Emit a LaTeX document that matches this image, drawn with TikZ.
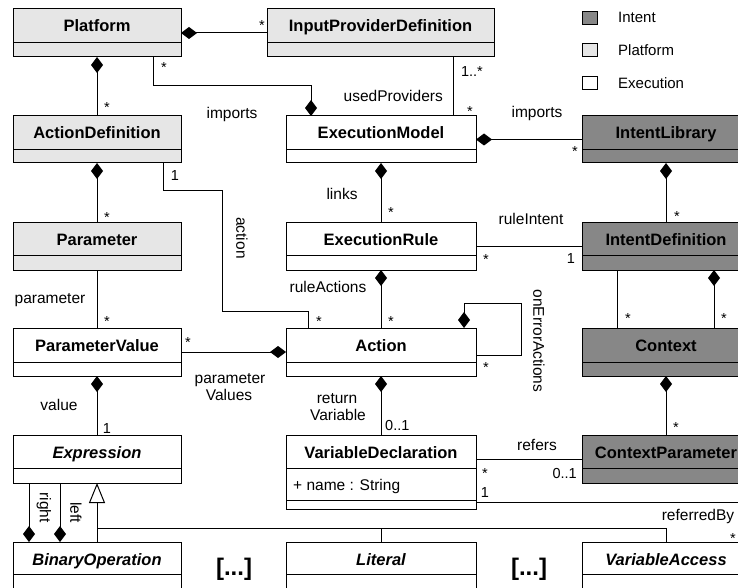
\documentclass[tikz,border=0pt]{standalone}
\usepackage{fontspec}
\setmainfont{Liberation Sans}
\usetikzlibrary{arrows.meta}
\definecolor{intentc}{HTML}{878787}
\definecolor{platc}{HTML}{E6E6E6}
\tikzset{
  cls/.style={draw=black, line width=1pt, inner sep=0pt, outer sep=0pt, anchor=north west},
  platbox/.style={fill=platc},
  intbox/.style={fill=intentc},
  execbox/.style={fill=white},
  ttl/.style={font=\fontsize{16.5}{19}\selectfont\bfseries, anchor=base, inner sep=0pt},
  lbl/.style={font=\fontsize{15.5}{18}\selectfont, inner sep=0pt, anchor=base},
  mult/.style={font=\fontsize{14.5}{17}\selectfont, inner sep=0pt, anchor=base},
  rlbl/.style={font=\fontsize{15.5}{18}\selectfont, inner sep=0pt, rotate=-90},
  conn/.style={line width=1pt},
  comp/.style={conn, {Diamond[length=16pt,width=12pt]}-},
  compend/.style={conn, -{Diamond[length=16pt,width=12pt]}},
  gen/.style={conn, -{Triangle[open,fill=white,length=20pt,width=16pt]}},
  legbox/.style={draw=black, line width=1pt, minimum width=15pt, minimum height=13pt, inner sep=0pt},
  legtxt/.style={font=\fontsize{15}{18}\selectfont, inner sep=0pt, anchor=base west},
  dots/.style={font=\fontsize{24}{27}\selectfont\bfseries, inner sep=0pt},
}
\newcommand\umlclass[8]{%
  \node[cls,#7,minimum width={(#4)-(#2)}, minimum height={(#5)-(#3)}] (#1) at (#2,#3) {};
  \draw[conn] (#2,#6) -- (#4,#6);
  \node[ttl] (#1-t) at ({((#2)+(#4))/2},{(#3)+23}) {#8};
}
\begin{document}
\begin{tikzpicture}[x=1pt,y=-1pt]
\useasboundingbox (0,0) rectangle (738,588);
\clip (0,0) rectangle (738,588);
\fill[white] (0,0) rectangle (738,588);

% classes
\umlclass{plat}{13}{9}{181}{57}{43}{platbox}{Platform}
\umlclass{ipd}{267}{9}{494}{57}{43}{platbox}{InputProviderDefinition}
\umlclass{actdef}{13}{116}{181}{163}{150}{platbox}{ActionDefinition}
\umlclass{exmodel}{286}{116}{476}{163}{150}{execbox}{ExecutionModel}
\umlclass{intlib}{582}{116}{750}{163}{150}{intbox}{IntentLibrary}
\umlclass{param}{13}{222}{181}{270}{255}{platbox}{Parameter}
\umlclass{exrule}{286}{222}{476}{270}{255}{execbox}{ExecutionRule}
\umlclass{intdef}{582}{222}{750}{270}{255}{intbox}{IntentDefinition}
\umlclass{pval}{13}{328}{181}{376}{362}{execbox}{ParameterValue}
\umlclass{action}{286}{328}{476}{376}{362}{execbox}{Action}
\umlclass{context}{582}{328}{750}{376}{362}{intbox}{Context}
\umlclass{expr}{13}{435}{181}{483}{468}{execbox}{\itshape Expression}
\umlclass{vardecl}{286}{435}{476}{509}{468}{execbox}{VariableDeclaration}
\draw[conn] (286,500) -- (476,500);
\node[lbl, anchor=base west] (vdattr) at (293,490) {+ name : String};
\umlclass{ctxparam}{582}{435}{750}{483}{468}{intbox}{ContextParameter}
\umlclass{binop}{13}{542}{181}{600}{574}{execbox}{\itshape BinaryOperation}
\umlclass{literal}{286}{542}{476}{600}{574}{execbox}{\itshape Literal}
\umlclass{varacc}{582}{542}{750}{600}{574}{execbox}{\itshape VariableAccess}

% legend
\node[legbox, fill=intentc] (legI) at (589.5,18) {};
\node[legtxt] (legIt) at (618,23) {Intent};
\node[legbox, fill=platc] (legP) at (589.5,50.5) {};
\node[legtxt] (legPt) at (618,56) {Platform};
\node[legbox, fill=white] (legE) at (589.5,83.5) {};
\node[legtxt] (legEt) at (618,89) {Execution};

% helper coordinates
\coordinate (imp1) at (153,86);
\coordinate (imp2) at (311,86);
\coordinate (upx) at (453,0);
\coordinate (a1) at (163,190);
\coordinate (a2) at (222,190);
\coordinate (a3) at (222,311);
\coordinate (a4) at (308,311);
\coordinate (l1) at (521,355);
\coordinate (l2) at (521,303);
\coordinate (l3) at (464,303);
\coordinate (c1) at (617,0);
\coordinate (c2) at (714,0);
\coordinate (rf) at (0,459);
\coordinate (rb1) at (745,502);
\coordinate (g1) at (97,528);
\coordinate (rl) at (29,0);
\coordinate (ll) at (60,0);

% connectors
\draw[comp] (plat.east) -- (ipd.west);
\draw[comp] (plat.south) -- (plat.south |- actdef.north);
\draw[compend] (plat.south -| imp1) -- (imp1) -- (imp2) -- (exmodel.north -| imp2);
\draw[conn] (ipd.south -| upx) -- (exmodel.north -| upx);
\draw[comp] (exmodel.east) -- (intlib.west);
\draw[comp] (exmodel.south) -- (exrule.north);
\draw[comp] (intlib.south) -- (intdef.north);
\draw[conn] (exrule.east) -- (intdef.west);
\draw[conn] (actdef.south -| a1) -- (a1) -- (a2) -- (a3) -- (a4) -- (action.north -| a4);
\draw[comp] (actdef.south) -- (param.north);
\draw[conn] (param.south) -- (pval.north);
\draw[comp] (exrule.south) -- (action.north);
\draw[compend] (action.east |- l1) -- (l1) -- (l2) -- (l3) -- (action.north -| l3);
\draw[compend] (pval.east) -- (action.west);
\draw[conn] (intdef.south -| c1) -- (context.north -| c1);
\draw[comp] (intdef.south -| c2) -- (context.north -| c2);
\draw[comp] (context.south) -- (ctxparam.north);
\draw[comp] (pval.south) -- (expr.north);
\draw[comp] (action.south) -- (vardecl.north);
\draw[conn] (vardecl.east |- rf) -- (ctxparam.west |- rf);
\draw[conn] (vardecl.east |- rb1) -- (rb1) -- (varacc.north -| rb1);
\draw[gen] (binop.north) -- (expr.south);
\draw[conn] (binop.north |- g1) -- (g1 -| varacc.north) -- (varacc.north);
\draw[conn] (g1 -| literal.north) -- (literal.north);
\draw[compend] (expr.south -| rl) -- (binop.north -| rl);
\draw[compend] (expr.south -| ll) -- (binop.north -| ll);

% role labels
\node[lbl] (limp1) at (232,119) {imports};
\node[lbl, anchor=base east] (lused) at (443,102) {usedProviders};
\node[lbl] (limp2) at (537,118) {imports};
\node[lbl] (llinks) at (342,200) {links};
\node[lbl] (lrint) at (531,224) {ruleIntent};
\node[rlbl] (lact) at (242,238) {action};
\node[lbl] (lract) at (328,292) {ruleActions};
\node[lbl] (lparam) at (50,303) {parameter};
\node[rlbl] (lerr) at (539,341) {onErrorActions};
\node[lbl] (lpv1) at (230,383) {parameter};
\node[lbl] (lpv2) at (229,400) {Values};
\node[lbl] (lval) at (59,410) {value};
\node[lbl] (lret1) at (337,403) {return};
\node[lbl] (lret2) at (338,420) {Variable};
\node[lbl] (lref) at (537,450) {refers};
\node[lbl] (lrefby) at (698,520) {referredBy};
\node[rlbl, anchor=east] (lright) at (44,523) {right};
\node[rlbl, anchor=east] (lleft) at (76,523) {left};
\node[dots] (dots1) at (234,569) {[...]};
\node[dots] (dots2) at (529,569) {[...]};

% multiplicities
\node[mult] (m1) at (262,31) {*};
\node[mult] (m2) at (164,73) {*};
\node[mult] (m3) at (107,113) {*};
\node[mult] (m4) at (472,77) {1..*};
\node[mult] (m5) at (470,117) {*};
\node[mult] (m6) at (575,157) {*};
\node[mult] (m7) at (175,180) {1};
\node[mult] (m8) at (391,217) {*};
\node[mult] (m9) at (677,221) {*};
\node[mult] (m10) at (107,222) {*};
\node[mult] (m11) at (486,264) {*};
\node[mult] (m12) at (571,263) {1};
\node[mult] (m13) at (107,326) {*};
\node[mult] (m14) at (319,326) {*};
\node[mult] (m15) at (391,326) {*};
\node[mult] (m16) at (628,323) {*};
\node[mult] (m17) at (724,323) {*};
\node[mult] (m18) at (188,347) {*};
\node[mult] (m19) at (486,372) {*};
\node[mult] (m20) at (107,433) {1};
\node[mult, anchor=base west] (m21) at (385,430) {0..1};
\node[mult] (m22) at (676,432) {*};
\node[mult] (m23) at (485,478) {*};
\node[mult, anchor=base east] (m24) at (577,478) {0..1};
\node[mult] (m25) at (485,497) {1};
\node[mult] (m26) at (733,543) {*};
\end{tikzpicture}
\end{document}
